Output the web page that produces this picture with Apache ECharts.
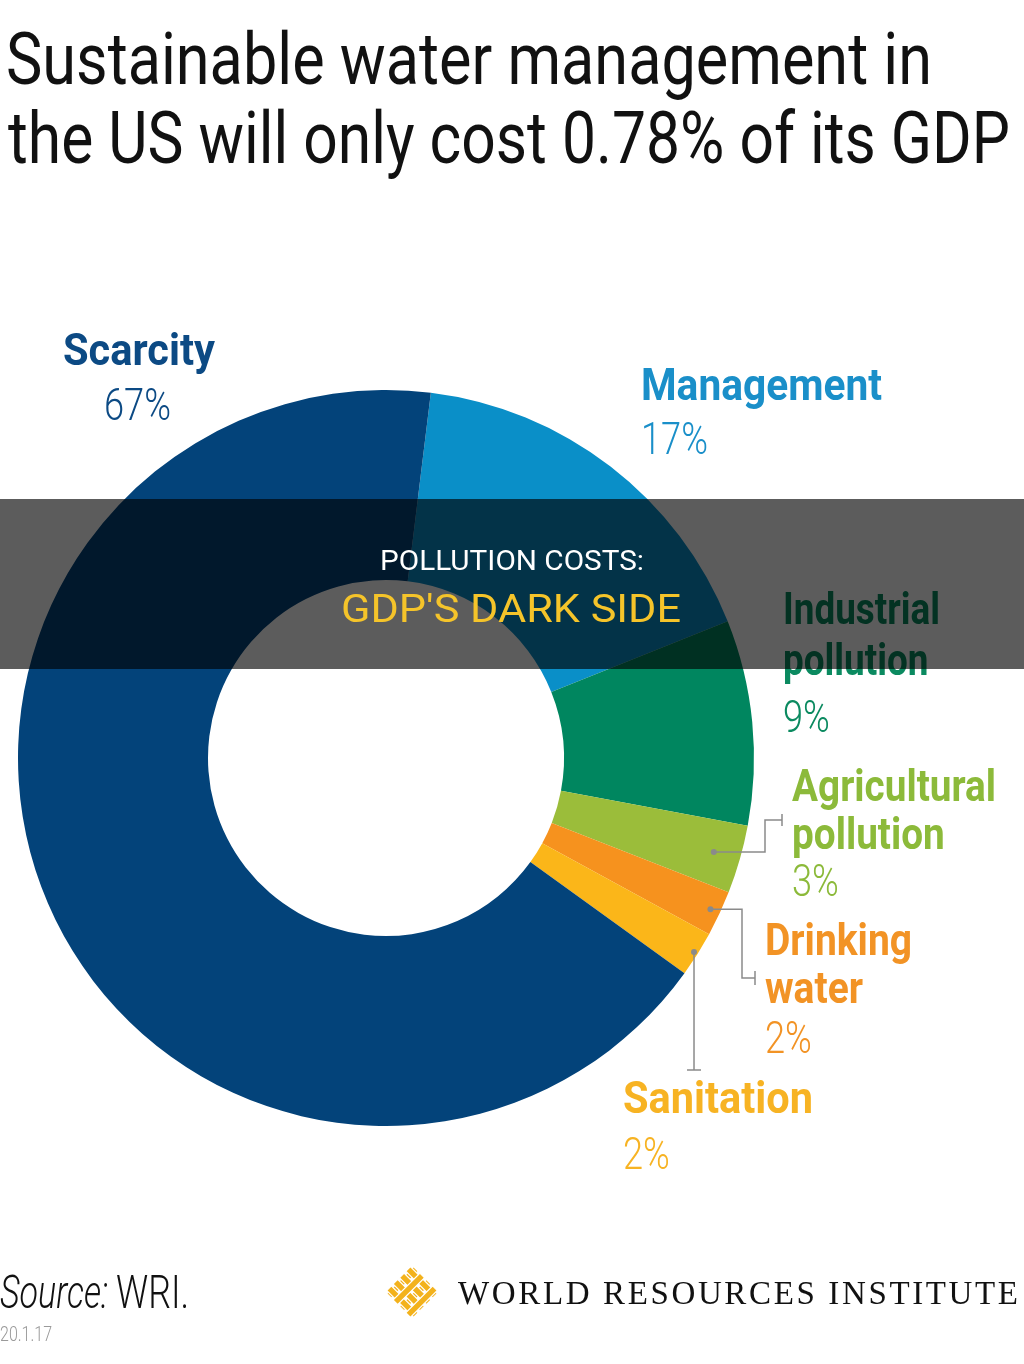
<!DOCTYPE html>
<html><head><meta charset="utf-8">
<script src="https://cdn.jsdelivr.net/npm/echarts@6/dist/echarts.min.js"></script>
<style>html,body{margin:0;padding:0;background:#fff}#c{width:1024px;height:1364px}</style>
</head><body><div id="c"></div>
<script>
const categories = ['Management', 'Industrial pollution', 'Agricultural pollution', 'Drinking water', 'Sanitation', 'Scarcity'];
const shares = [17, 9, 3, 2, 2, 67];
const labelLines = [['Management'], ['Industrial', 'pollution'], ['Agricultural', 'pollution'], ['Drinking', 'water'], ['Sanitation'], ['Scarcity']];
const sliceColors = ['#0a8fc8', '#00865f', '#9bbd3a', '#f6921e', '#fbb619', '#03437a'];
const labelColors = ['#1a8fc9', '#0b8a60', '#8cba3a', '#f29325', '#f7b323', '#0c4a84'];
const titleLines = ['Sustainable water management in', 'the US will only cost 0.78% of its GDP'];
const bandLines = ['POLLUTION COSTS:', "GDP'S DARK SIDE"];

const FAM = 'Roboto, "Noto Sans", sans-serif';
const cv = document.createElement('canvas').getContext('2d');
function measure(t, font) { cv.font = font; return cv.measureText(t).width; }
function txt(str, x, base, size, weight, color, sx, z, family) {
  const font = weight + ' ' + size + 'px ' + (family || FAM);
  return { type: 'text', x: x, y: base - 0.292 * size, scaleX: sx, z: z || 5,
    style: { text: str, font: font, fill: color, verticalAlign: 'middle', align: 'left' } };
}
function fit(str, size, weight, w, family) {
  return w / measure(str, weight + ' ' + size + 'px ' + (family || FAM));
}

const CX = 386, CY = 758, R0 = 178, R1 = 368, START = 83;
const g = [];

// Title
const tS = 73;
g.push(txt(titleLines[0], 6, 87, tS, 400, '#111', fit(titleLines[0], tS, 400, 926), 5));
g.push(txt(titleLines[1], 8, 166, tS, 400, '#111', fit(titleLines[1], tS, 400, 1002), 5));

// Labels
const BS = 44, PS = 44;
const psx = fit('67%', PS, 300, 67);
const labelPos = [ // x, baselines of name lines, pct baseline, first-line width
  [641, [402], 456, 241],
  [783, [626, 677], 734, 157],
  [792, [803, 851], 898, 204],
  [765, [957, 1005], 1055, 147],
  [623, [1115], 1171, 190],
  [63, [367], 422, 152]
];
labelPos.forEach((p, i) => {
  const sx = fit(labelLines[i][0], BS, 700, p[3]);
  labelLines[i].forEach((ln, j) => g.push(txt(ln, p[0], p[1][j], BS, 700, labelColors[i], sx, 5)));
  g.push(txt(shares[i] + '%', i === 5 ? 104 : p[0], p[2], PS, 300, labelColors[i], psx, 5));
});

// Leader lines from slice mid-angles
const total = shares.reduce((a, b) => a + b, 0);
let acc = 0;
const mids = shares.map(v => { const m = acc + v / 2; acc += v; return (90 - START) + m / total * 360; });
function pt(i, r) { const a = mids[i] * Math.PI / 180; return [CX + r * Math.sin(a), CY - r * Math.cos(a)]; }
const LC = '#8a8a8a';
const dA = pt(2, 341), dD = pt(3, 358), dS = pt(4, 364);
function line(points) { return { type: 'polyline', z: 6, shape: { points: points }, style: { stroke: LC, lineWidth: 1.5, fill: null } }; }
function dot(p) { return { type: 'circle', z: 7, shape: { cx: p[0], cy: p[1], r: 3 }, style: { fill: LC } }; }
g.push(line([dA, [765, dA[1]], [765, 820], [782, 820]]), line([[782, 814], [782, 826]]), dot(dA));
g.push(line([dD, [742, dD[1]], [742, 978], [755, 978]]), line([[755, 971], [755, 985]]), dot(dD));
g.push(line([dS, [dS[0], 1070]]), line([[dS[0] - 7, 1070], [dS[0] + 7, 1070]]), dot(dS));

// Band overlay
g.push({ type: 'rect', z: 50, shape: { x: 0, y: 499, width: 1024, height: 170 }, style: { fill: 'rgba(0,0,0,0.64)' } });
g.push(txt(bandLines[0], 380, 571, 27, 400, '#ffffff', fit(bandLines[0], 27, 400, 264), 51));
g.push(txt(bandLines[1], 341, 624, 38, 400, '#f5c42a', fit(bandLines[1], 38, 400, 340), 51));

// Footer
g.push({ type: 'text', x: 0, y: 1310 - 0.292 * 46, z: 5, scaleX: 0.74,
  style: { text: 'Source:', font: 'italic 300 46px ' + FAM, fill: '#111', verticalAlign: 'middle' } });
g.push(txt('WRI.', 116, 1310, 46, 300, '#111', 0.78, 5));
g.push(txt('20.1.17', 0, 1342, 20, 300, '#9a9a9a', 0.8, 5));

// WRI wordmark, letter-spaced serif
(function () {
  const s = 'WORLD RESOURCES INSTITUTE', SZ = 33, fam = '"Liberation Serif", "DejaVu Serif", serif';
  const font = '400 ' + SZ + 'px ' + fam;
  let wsum = 0; for (const ch of s) wsum += measure(ch, font);
  const target = 1018 - 458;
  const sp = (target - wsum) / (s.length - 1);
  let x = 458;
  for (const ch of s) {
    g.push({ type: 'text', x: x, y: 1305 - 0.3 * SZ, z: 5, style: { text: ch, font: font, fill: '#111', verticalAlign: 'middle' } });
    x += measure(ch, font) + sp;
  }
})();

// WRI logo: woven diamond lattice
(function () {
  const c = [412, 1292], ch = [];
  const L = 38, w = 6.5, offs = [-13.5, -4.5, 4.5, 13.5];
  offs.forEach((o, k) => {
    ch.push({ type: 'rect', z2: k % 2 ? 2 : 0, shape: { x: -L / 2, y: o - w / 2, width: L, height: w }, style: { fill: '#f3b21c', stroke: '#fff', lineWidth: 1.2 } });
  });
  offs.forEach((o, k) => {
    ch.push({ type: 'rect', z2: k % 2 ? 0 : 1, shape: { x: o - w / 2, y: -L / 2, width: w, height: L }, style: { fill: '#f3b21c', stroke: '#fff', lineWidth: 1.2 } });
  });
  g.push({ type: 'group', x: c[0], y: c[1], rotation: Math.PI / 4, z: 5, children: ch });
})();

const chart = echarts.init(document.getElementById('c'), null, { renderer: 'canvas' });
chart.setOption({
  animation: false,
  backgroundColor: '#ffffff',
  series: [{
    type: 'pie',
    center: [CX, CY],
    radius: [R0, R1],
    startAngle: START,
    clockwise: true,
    silent: true,
    label: { show: false },
    labelLine: { show: false },
    itemStyle: { borderWidth: 0 },
    data: categories.map((c, i) => ({ name: c, value: shares[i], itemStyle: { color: sliceColors[i] } }))
  }],
  graphic: g
});
</script></body></html>
